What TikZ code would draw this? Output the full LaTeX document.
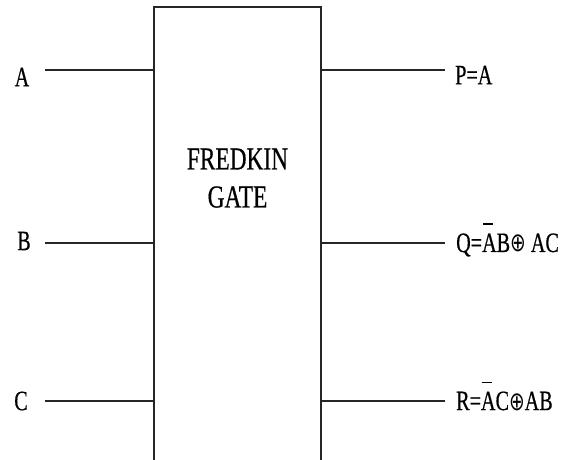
\documentclass[tikz,border=0pt]{standalone}
\usepackage{fontspec}
\setmainfont{Liberation Serif}
\newfontfamily\heavyserif{Liberation Serif}[UprightFeatures={FakeBold=0.6}]
\newfontfamily\symfont{DejaVu Sans}
\usepackage{graphicx}
\newcommand{\lbltext}[1]{\scalebox{0.72}[1]{\heavyserif\fontsize{28}{30}\selectfont #1}}
\newcommand{\gatetext}[1]{\scalebox{0.73}[1]{\heavyserif\fontsize{32}{34}\selectfont #1}}
\newcommand{\negA}{\rlap{\raisebox{27pt}{\hspace{1pt}\rule{14pt}{1.5pt}}}A}
\newcommand{\xorsym}{{\symfont\fontsize{26}{28}\selectfont ⊕}}
\begin{document}
\begin{tikzpicture}[x=1pt,y=-1pt,
  wire/.style={line width=1.6pt, draw=black!85},
  lbl/.style={inner sep=0pt, text=black},
  gatebox/.style={draw=black!85, line width=1.8pt, minimum width=167pt, minimum height=455pt, inner sep=0pt}]
\useasboundingbox (0,0) rectangle (573,459);
\node[gatebox] (gate) at (237.5,234.5) {};
\node[lbl] (title1) at (237.5,159) {\gatetext{FREDKIN}};
\node[lbl] (title2) at (237.5,197) {\gatetext{GATE}};
% inputs
\coordinate (ia) at (45,70);
\coordinate (ib) at (45,243);
\coordinate (ic) at (45,401);
\draw[wire] (ia) -- (ia -| gate.west);
\draw[wire] (ib) -- (ib -| gate.west);
\draw[wire] (ic) -- (ic -| gate.west);
\node[lbl] (la) at (22,77) {\lbltext{A}};
\node[lbl] (lb) at (24,241) {\lbltext{B}};
\node[lbl] (lc) at (21,401) {\lbltext{C}};
% outputs
\coordinate (op) at (445,70);
\coordinate (oq) at (445,243);
\coordinate (or) at (445,401);
\draw[wire] (op -| gate.east) -- (op);
\draw[wire] (oq -| gate.east) -- (oq);
\draw[wire] (or -| gate.east) -- (or);
\node[lbl, anchor=west] (lp) at (455,75) {\lbltext{P=A}};
\node[lbl, anchor=west] (lq) at (456,240) {\lbltext{Q=\negA B\xorsym\ AC}};
\node[lbl, anchor=west] (lr) at (456,396) {\lbltext{R=\negA C\xorsym AB}};
\end{tikzpicture}
\end{document}
